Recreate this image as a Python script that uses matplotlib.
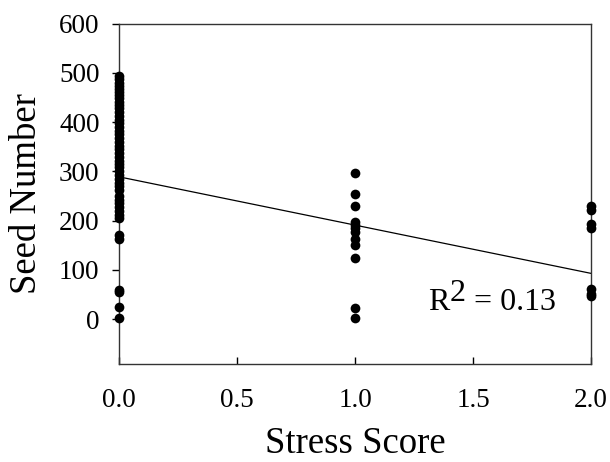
import matplotlib
matplotlib.use("Agg")
import matplotlib.pyplot as plt
import matplotlib.transforms as mtransforms
import numpy as np

plt.rcParams['font.family'] = ['Liberation Serif', 'DejaVu Serif']

# Data
score0 = [493, 487, 480, 474, 468, 462, 455, 448, 441, 435, 428, 420, 412, 405,
          398, 390, 382, 375, 368, 360, 352, 345, 338, 330, 322, 315, 308, 300,
          292, 285, 277, 270, 262, 250, 242, 235, 228, 220, 212, 205, 170, 163,
          60, 55, 25, 2]
score1 = [296, 255, 229, 197, 192, 185, 178, 162, 150, 124, 22, 2]
score2 = [230, 222, 194, 186, 62, 52, 47]
stress_levels = [0.0, 1.0, 2.0]

fit_intercept = 289
fit_slope = -98
r2_value = 0.13

x_ticks = [0.0, 0.5, 1.0, 1.5, 2.0]
y_ticks = [0, 100, 200, 300, 400, 500, 600]

fig = plt.figure(figsize=(6.10, 4.62), dpi=100)
ax = fig.add_axes([0.195, 0.212, 0.774, 0.737])

for lvl, vals in zip(stress_levels, [score0, score1, score2]):
    ax.plot([lvl] * len(vals), vals, 'o', color='black', markersize=7,
            markeredgewidth=0, clip_on=False, zorder=3)

xs = np.array([0.0, 2.0])
ax.plot(xs, fit_intercept + fit_slope * xs, color='black', lw=0.9, zorder=2)

ax.set_xlim(0, 2)
ax.set_ylim(-91, 600)
ax.set_xticks(x_ticks)
ax.set_xticklabels([f"{v:.1f}" for v in x_ticks])
ax.set_yticks(y_ticks)

ax.tick_params(axis='x', direction='in', length=5, width=1, labelsize=19.5, pad=17)
ax.tick_params(axis='y', direction='out', length=5, width=1, labelsize=19.5, pad=9)
for s in ax.spines.values():
    s.set_linewidth(1.0)
    s.set_color('#333333')

ax.set_xlabel('Stress Score', fontsize=26.5, labelpad=10)
ax.set_ylabel('Seed Number', fontsize=26.5, labelpad=11)

# R^2 annotation with a large raised "2"
fs = 23
t1 = ax.text(1.31, 18, 'R', fontsize=fs, va='baseline', ha='left')
fig.canvas.draw()
r = fig.canvas.get_renderer()
bb = t1.get_window_extent(renderer=r)
w_pts = bb.width * 72 / fig.dpi
tr2 = mtransforms.offset_copy(ax.transData, fig=fig, x=w_pts, y=7, units='points')
t2 = ax.text(1.31, 18, '2', fontsize=fs, va='baseline', ha='left', transform=tr2)
fig.canvas.draw()
bb2 = t2.get_window_extent(renderer=r)
w2_pts = w_pts + bb2.width * 72 / fig.dpi
tr3 = mtransforms.offset_copy(ax.transData, fig=fig, x=w2_pts, y=0, units='points')
ax.text(1.31, 18, ' = ' + f'{r2_value:.2f}', fontsize=fs, va='baseline', ha='left',
        transform=tr3)

fig.savefig('out.png', dpi=100)
